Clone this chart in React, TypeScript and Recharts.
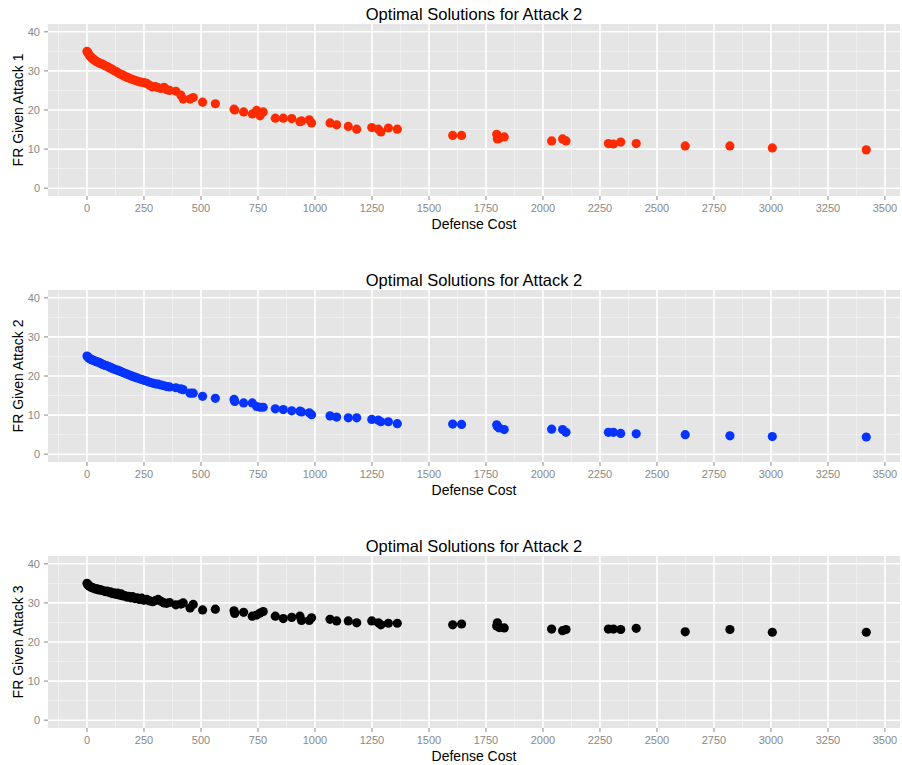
import React from "react";
import {
  ScatterChart,
  Scatter,
  XAxis,
  YAxis,
  CartesianGrid,
  ReferenceLine,
} from "recharts";

// Defense cost of each optimal solution (shared by all three panels)
const defenseCost = [
  0, 3, 6, 10, 14, 18, 23, 28, 33, 39, 45, 52, 58, 65, 72, 80, 88, 95, 103, 110,
  118, 126, 134, 142, 150, 158, 166, 175, 183, 192, 200, 210, 220, 230, 240, 250,
  262, 275, 288, 300, 312, 325, 338, 350, 362,
  390, 412, 422, 452, 466, 507, 563, 645, 648, 687, 725, 744, 759, 773, 826, 861,
  898, 934, 941, 975, 985, 1066, 1095, 1146, 1183, 1249, 1278, 1289, 1322, 1361,
  1604, 1643, 1797, 1800, 1808, 1830, 2038, 2086, 2101, 2287, 2309, 2341, 2409,
  2624, 2820, 3006, 3418,
];

const frAttack1 = [
  35.0, 34.7, 34.4, 34.1, 33.8, 33.5, 33.2, 33.0, 32.8, 32.5, 32.3, 32.1, 31.9,
  31.8, 31.6, 31.3, 31.1, 30.9, 30.6, 30.4, 30.1, 29.9, 29.6, 29.3, 29.1, 28.9,
  28.6, 28.4, 28.2, 28.0, 27.8, 27.6, 27.4, 27.2, 27.1, 27.0, 26.8, 26.3, 25.9,
  26.0, 25.7, 25.5, 25.8, 25.2, 25.0,
  24.8, 23.8, 22.8, 22.8, 23.2, 22.0, 21.6, 20.2, 20.0, 19.5, 19.0, 19.9, 18.5,
  19.5, 17.9, 17.9, 17.8, 17.0, 17.2, 17.5, 16.7, 16.7, 16.2, 15.8, 15.1, 15.5,
  15.1, 14.4, 15.4, 15.1, 13.5, 13.5, 13.8, 12.6, 12.8, 13.1, 12.1, 12.6, 12.1,
  11.4, 11.3, 11.8, 11.4, 10.8, 10.8, 10.3, 9.8,
];

const frAttack2 = [
  25.1, 24.9, 24.7, 24.5, 24.4, 24.2, 24.1, 24.0, 23.9, 23.7, 23.6, 23.5, 23.3,
  23.1, 22.9, 22.7, 22.6, 22.4, 22.2, 22.0, 21.8, 21.6, 21.5, 21.3, 21.1, 20.9,
  20.7, 20.5, 20.3, 20.1, 19.9, 19.7, 19.5, 19.3, 19.1, 18.9, 18.7, 18.4, 18.2,
  18.0, 17.9, 17.7, 17.5, 17.3, 17.2,
  17.0, 16.7, 16.5, 15.6, 15.6, 14.8, 14.3, 14.0, 13.5, 13.1, 13.1, 12.2, 12.0,
  12.0, 11.6, 11.4, 11.1, 11.0, 10.8, 10.6, 10.1, 9.8, 9.5, 9.3, 9.3, 8.9, 8.7,
  8.3, 8.3, 7.8, 7.7, 7.6, 7.5, 7.1, 6.7, 6.3, 6.4, 6.3, 5.6, 5.6, 5.6, 5.3,
  5.2, 5.0, 4.7, 4.5, 4.4,
];

const frAttack3 = [
  35.0, 34.7, 34.5, 34.3, 34.2, 34.0, 33.9, 33.8, 33.7, 33.5, 33.6, 33.3, 33.4,
  33.2, 33.1, 32.9, 33.0, 32.7, 32.8, 32.4, 32.6, 32.2, 32.5, 32.0, 32.3, 31.8,
  31.9, 31.5, 31.7, 31.3, 31.6, 31.1, 31.3, 30.9, 31.2, 30.7, 30.9, 30.5, 30.3,
  30.6, 30.9, 30.4, 30.0, 29.9, 30.1,
  29.5, 29.7, 30.0, 28.7, 29.6, 28.2, 28.4, 28.0, 27.3, 27.6, 26.6, 26.9, 27.4,
  27.8, 26.6, 26.0, 26.3, 26.6, 25.5, 25.5, 26.2, 25.8, 25.4, 25.4, 24.9, 25.4,
  24.9, 24.4, 24.8, 24.8, 24.4, 24.6, 24.1, 24.9, 23.7, 23.6, 23.3, 22.9, 23.2,
  23.3, 23.3, 23.2, 23.5, 22.6, 23.2, 22.5, 22.5,
];

const xTicks = [0, 250, 500, 750, 1000, 1250, 1500, 1750, 2000, 2250, 2500, 2750, 3000, 3250, 3500];
const xMinor = [-125, 125, 375, 625, 875, 1125, 1375, 1625, 1875, 2125, 2375, 2625, 2875, 3125, 3375];
const yTicks = [0, 10, 20, 30, 40];
const yMinor = [5, 15, 25, 35];

const panels = [
  { top: 0, color: "#FF2B00", values: frAttack1, yLabel: "FR Given Attack 1" },
  { top: 266, color: "#0533FF", values: frAttack2, yLabel: "FR Given Attack 2" },
  { top: 532, color: "#000000", values: frAttack3, yLabel: "FR Given Attack 3" },
];

const FONT = '"Liberation Sans", Arial, Helvetica, sans-serif';
const W = 902;
const H = 250;

function Panel({ color, values, yLabel }: { color: string; values: number[]; yLabel: string }) {
  const data = defenseCost.map((c, i) => ({ cost: c, fr: values[i] }));
  const tick = { fill: "#888888", fontSize: 11, fontFamily: FONT };
  return (
    <ScatterChart width={W} height={H} margin={{ top: 24, right: 2, bottom: 0, left: 0 }}>
      <CartesianGrid fill="#E5E5E5" horizontal={false} vertical={false} />
      {yMinor.map((v) => (
        <ReferenceLine key={"ym" + v} y={v} stroke="#F2F2F2" strokeWidth={0.8} />
      ))}
      {xMinor.map((v) => (
        <ReferenceLine key={"xm" + v} x={v} stroke="#F2F2F2" strokeWidth={0.8} />
      ))}
      {yTicks.map((v) => (
        <ReferenceLine key={"y" + v} y={v} stroke="#FFFFFF" strokeWidth={1.6} />
      ))}
      {xTicks.map((v) => (
        <ReferenceLine key={"x" + v} x={v} stroke="#FFFFFF" strokeWidth={1.6} />
      ))}
      <XAxis
        type="number"
        dataKey="cost"
        domain={[-171, 3566]}
        ticks={xTicks}
        allowDataOverflow
        axisLine={false}
        tickSize={4}
        tickMargin={4}
        tickLine={{ stroke: "#888888" }}
        tick={tick}
        height={54}
        interval={0}
      />
      <YAxis
        type="number"
        dataKey="fr"
        domain={[-2, 42]}
        ticks={yTicks}
        allowDataOverflow
        axisLine={false}
        tickSize={4}
        tickMargin={4}
        tickLine={{ stroke: "#888888" }}
        tick={tick}
        width={48}
        interval={0}
      />
      <Scatter
        data={data}
        isAnimationActive={false}
        fill={color}
        shape={(p: any) => <circle cx={p.cx} cy={p.cy} r={4.6} fill={color} />}
      />
      <text x={474} y={20} textAnchor="middle" fontSize={16.5} fontFamily={FONT} fill="#000">
        Optimal Solutions for Attack 2
      </text>
      <text x={474} y={229} textAnchor="middle" fontSize={14} fontFamily={FONT} fill="#000">
        Defense Cost
      </text>
      <text
        x={23}
        y={110}
        textAnchor="middle"
        fontSize={14}
        fontFamily={FONT}
        fill="#000"
        transform="rotate(-90, 23, 110)"
      >
        {yLabel}
      </text>
    </ScatterChart>
  );
}

export default function App() {
  return (
    <div style={{ position: "absolute", left: 0, top: 0, width: W, height: 765, background: "#fff" }}>
      {panels.map((p) => (
        <div key={p.yLabel} style={{ position: "absolute", left: 0, top: p.top }}>
          <Panel color={p.color} values={p.values} yLabel={p.yLabel} />
        </div>
      ))}
    </div>
  );
}
